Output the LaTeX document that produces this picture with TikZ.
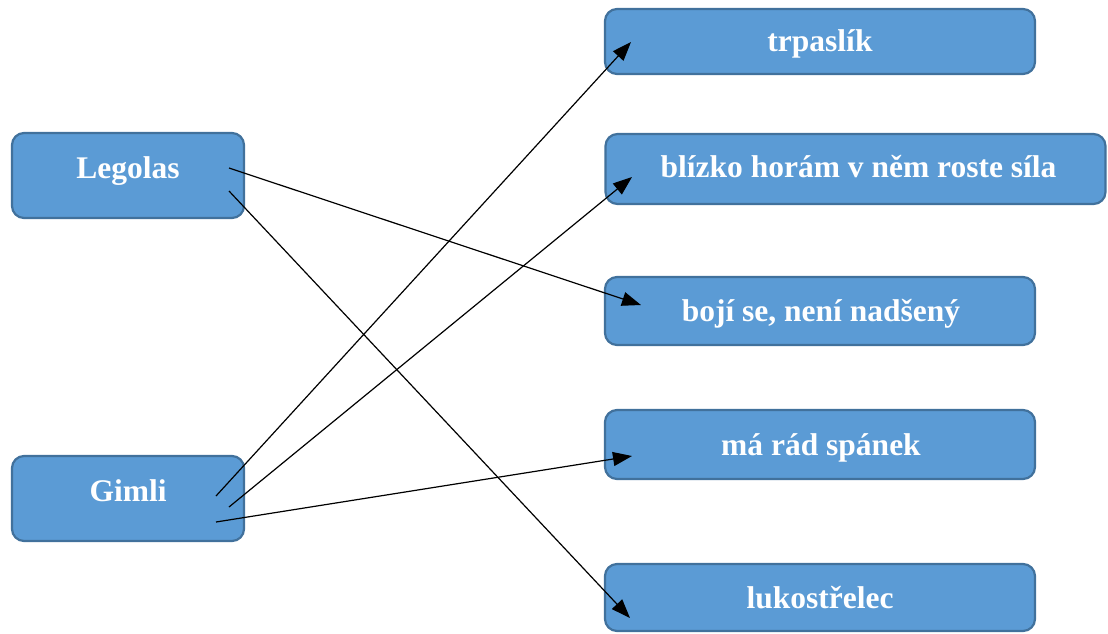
\documentclass[tikz,border=0pt]{standalone}
\usepackage{fontspec}
\setmainfont{Liberation Serif}
\usetikzlibrary{arrows.meta,calc}
\definecolor{boxfill}{HTML}{5B9BD5}
\definecolor{boxline}{HTML}{41719C}
\begin{document}
\begin{tikzpicture}[x=1pt,y=-1pt,
  itembox/.style={draw=boxline,fill=boxfill,line width=2.2pt,rounded corners=12pt,inner sep=0pt},
  itemtext/.style={text=white,font=\fontsize{31.5}{34}\selectfont\bfseries,inner sep=0pt,anchor=base},
  link/.style={line width=1.2pt,-{Triangle[length=19pt,width=14pt]}}]
\useasboundingbox (0,0) rectangle (1108,633);
\node[itembox,minimum width=232pt,minimum height=85pt] (leg) at (128,175.5) {};
\node[itembox,minimum width=232pt,minimum height=85pt] (gim) at (128,498.5) {};
\node[itembox,minimum width=430pt,minimum height=65pt] (trp) at (820,41.5) {};
\node[itembox,minimum width=500pt,minimum height=70pt] (bli) at (855.5,169) {};
\node[itembox,minimum width=430pt,minimum height=68pt] (boj) at (820,311) {};
\node[itembox,minimum width=430pt,minimum height=69pt] (mar) at (820,444.5) {};
\node[itembox,minimum width=430pt,minimum height=67pt] (luk) at (820,597.5) {};
\node[itemtext] (legT) at ($(leg.center)+(0,2.5)$) {Legolas};
\node[itemtext] (gimT) at ($(gim.center)+(0,2.5)$) {Gimli};
\node[itemtext] (trpT) at ($(trp.center)+(0,10)$) {trpaslík};
\node[itemtext] (bliT) at ($(bli.center)+(3,8)$) {blízko horám v něm roste síla};
\node[itemtext] (bojT) at ($(boj.center)+(1,10)$) {bojí se, není nadšený};
\node[itemtext] (marT) at ($(mar.center)+(1,10.5)$) {má rád spánek};
\node[itemtext] (lukT) at ($(luk.center)+(0,10.5)$) {lukostřelec};
\coordinate (l1) at (229,168);
\coordinate (l2) at (229,191);
\coordinate (g1) at (216,496);
\coordinate (g2) at (229,507);
\coordinate (g3) at (216,522);
\coordinate (t1) at (631,42);
\coordinate (t2) at (632,177);
\coordinate (t3) at (641,305);
\coordinate (t4) at (632,456);
\coordinate (t5) at (630,618);
\draw[link] (l1) -- (t3);
\draw[link] (l2) -- (t5);
\draw[link] (g1) -- (t1);
\draw[link] (g2) -- (t2);
\draw[link] (g3) -- (t4);
\end{tikzpicture}
\end{document}
